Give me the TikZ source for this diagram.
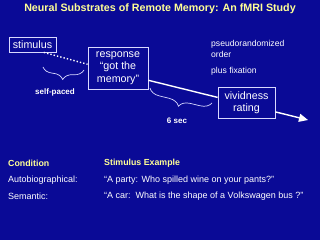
\documentclass[tikz,border=0pt]{standalone}
\usepackage{fontspec}
\setmainfont{Liberation Sans}
\usetikzlibrary{arrows.meta, decorations.pathreplacing}
\definecolor{slideblue}{RGB}{10,10,150}
\definecolor{slideyellow}{RGB}{255,255,150}

\begin{document}
\begin{tikzpicture}[x=1pt, y=-1pt,
  box/.style={draw=white!85!blue, line width=0.8pt, text=white, align=center,
    font=\fontsize{10.7}{12.5}\selectfont, inner sep=0pt},
  note/.style={text=white, anchor=west, align=left, inner sep=0pt,
    font=\fontsize{8.6}{11.5}\selectfont},
  tag/.style={text=white, inner sep=0pt, font=\bfseries\fontsize{8}{9.6}\selectfont},
  timebrace/.style={decorate, decoration={brace, mirror, amplitude=11pt}, white!85!blue, line width=0.7pt},
  head/.style={text=slideyellow, anchor=west, inner sep=0pt, font=\bfseries\fontsize{8.8}{10.5}\selectfont},
  row/.style={text=white, anchor=west, inner sep=0pt, font=\fontsize{9}{10.8}\selectfont}]
\fill[slideblue] (0,0) rectangle (320,240);
\node[text=slideyellow, font=\bfseries\fontsize{10.7}{12.8}\selectfont] (title) at (160,8.5) {Neural Substrates of Remote Memory: An fMRI Study};

% trial boxes
\node[box, minimum width=47, minimum height=15] (stimulus) at (32.5,44.5) {stimulus};
\node[box, minimum width=60, minimum height=42] (response) at (118,68) {response\\“got the\\memory”};
\node[box, minimum width=57, minimum height=31] (vividness) at (246.5,102.5) {vividness\\rating};
\coordinate (end) at (308,120);

\draw[white, line width=1.4pt, dotted] (stimulus.-35) -- (response.173);
\draw[white, line width=1.4pt] (response.-22) -- (vividness.170);
\draw[white, line width=1.4pt, -{Triangle[length=9pt,width=8pt]}] (vividness.-18) -- (end);

% timing
\draw[timebrace] (43,67) -- (84,70);
\node[tag] (selfpaced) at (55,92) {self-paced};
\draw[timebrace] (150,88) -- (212,103);
\node[tag] (sixsec) at (177,121) {6 sec};

\node[note] (order) at (211,49) {pseudorandomized\\order};
\node[note] (fixation) at (211,71) {plus fixation};

% conditions
\node[head] (condhead) at (8,163) {Condition};
\node[head] (examplehead) at (104,163) {Stimulus Example};
\node[row] (autolabel) at (8,180) {Autobiographical:};
\node[row] (autoexample) at (104,180) {“A party: Who spilled wine on your pants?”};
\node[row] (semlabel) at (8,196) {Semantic:};
\node[row] (semexample) at (104,196) {“A car:\ \ What is the shape of a Volkswagen bus ?”};
\end{tikzpicture}
\end{document}
